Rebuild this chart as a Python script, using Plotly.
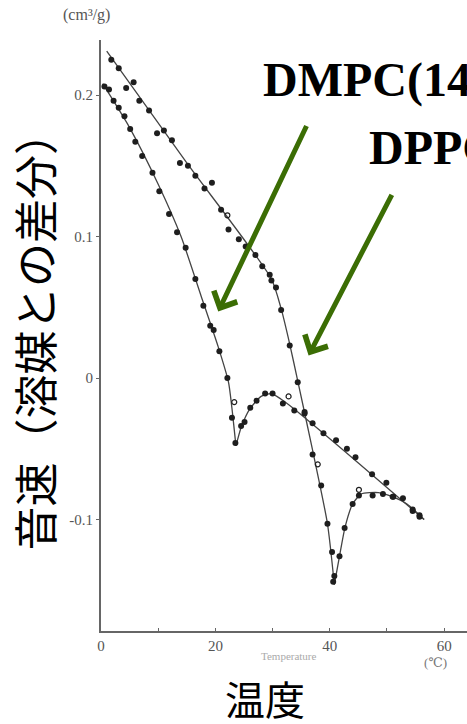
import plotly.graph_objects as go

# Measured points: excess sound velocity vs temperature
dppc_t = [1.8, 3.1, 4.4, 5.7, 6.7, 8.4, 9.8, 11.0, 12.4, 13.8, 15.2, 16.5, 18.1, 19.4,
          21.0, 22.3, 24.1, 25.3, 27.0, 28.2, 29.5, 29.8, 30.6, 31.5, 33.0, 34.4, 35.6,
          37.0, 38.5, 39.6, 40.4, 40.8, 40.6, 41.7, 42.6, 44.0, 45.1, 47.5, 49.3, 51.0,
          52.8, 54.5, 55.7]
dppc_v = [0.225, 0.219, 0.205, 0.209, 0.196, 0.189, 0.173, 0.175, 0.168, 0.152, 0.150,
          0.143, 0.134, 0.138, 0.119, 0.105, 0.098, 0.093, 0.087, 0.079, 0.073, 0.069,
          0.064, 0.048, 0.023, -0.003, -0.024, -0.054, -0.076, -0.103, -0.123, -0.140,
          -0.144, -0.126, -0.106, -0.089, -0.083, -0.083, -0.082, -0.084, -0.085,
          -0.093, -0.097]
dppc_open_t = [22.1, 37.9, 45.1]
dppc_open_v = [0.115, -0.061, -0.079]

dmpc_t = [0.6, 1.4, 2.2, 3.1, 4.1, 5.1, 6.0, 7.2, 9.0, 10.2, 11.9, 13.3, 14.8, 16.5,
          17.9, 19.1, 19.7, 20.7, 22.1, 22.9, 23.5, 24.5, 25.1, 26.1, 27.2, 28.7, 30.0,
          31.8, 33.8, 35.6, 37.0, 38.9, 41.1, 43.0, 44.5, 47.4, 49.9, 51.1, 54.5, 55.7]
dmpc_v = [0.206, 0.204, 0.196, 0.191, 0.185, 0.176, 0.167, 0.157, 0.145, 0.132, 0.116,
          0.103, 0.092, 0.070, 0.051, 0.037, 0.034, 0.019, 0.000, -0.028, -0.046,
          -0.034, -0.031, -0.021, -0.016, -0.011, -0.011, -0.018, -0.023, -0.025,
          -0.032, -0.039, -0.044, -0.050, -0.056, -0.068, -0.074, -0.084, -0.094, -0.098]
dmpc_open_t = [23.3, 32.8]
dmpc_open_v = [-0.017, -0.013]

# Drawn guide curves, split at the transition cusps
dppc_line_a_t = [1.0, 15.0, 29.8, 31.5, 33.0, 34.4, 37.0, 39.6, 40.8]
dppc_line_a_v = [0.231, 0.152, 0.070, 0.049, 0.024, -0.002, -0.051, -0.103, -0.146]
dppc_line_b_t = [40.8, 41.7, 42.7, 44.0, 45.5, 48.5, 51.0, 53.5, 56.5]
dppc_line_b_v = [-0.146, -0.126, -0.105, -0.089, -0.082, -0.081, -0.084, -0.089, -0.100]

dmpc_line_a_t = [0.3, 5.0, 10.0, 14.0, 17.5, 20.5, 22.3, 23.0, 23.6]
dmpc_line_a_v = [0.208, 0.177, 0.137, 0.100, 0.058, 0.022, -0.003, -0.025, -0.048]
dmpc_line_b_t = [23.6, 24.5, 26.0, 28.0, 29.8, 31.5, 33.5, 45.0, 56.5]
dmpc_line_b_v = [-0.048, -0.035, -0.022, -0.013, -0.011, -0.015, -0.021, -0.060, -0.100]

x_ticks = [0, 10, 20, 30, 40, 50, 60]
x_tick_text = ["0", "", "20", "", "40", "", "60"]
y_ticks = [0.2, 0.1, 0.0, -0.1]
y_tick_text = ["0.2", "0.1", "0", "-0.1"]

LINE = dict(color="#444444", width=1.3, shape="spline", smoothing=0.6)
DOT = dict(color="#1e1e1e", size=6, symbol="circle")
OPEN = dict(color="#1e1e1e", size=5, symbol="circle-open", line=dict(width=1.2))

fig = go.Figure()
for tx, vy in [(dppc_line_a_t, dppc_line_a_v), (dppc_line_b_t, dppc_line_b_v),
               (dmpc_line_a_t, dmpc_line_a_v), (dmpc_line_b_t, dmpc_line_b_v)]:
    fig.add_trace(go.Scatter(x=tx, y=vy, mode="lines", line=LINE,
                             hoverinfo="skip", showlegend=False))
for tx, vy in [(dppc_t, dppc_v), (dmpc_t, dmpc_v)]:
    fig.add_trace(go.Scatter(x=tx, y=vy, mode="markers", marker=DOT, showlegend=False))
for tx, vy in [(dppc_open_t, dppc_open_v), (dmpc_open_t, dmpc_open_v)]:
    fig.add_trace(go.Scatter(x=tx, y=vy, mode="markers", marker=OPEN, showlegend=False))

serif = "Liberation Serif, DejaVu Serif, serif"
tick_font = dict(family=serif, size=15, color="#555555")

fig.update_xaxes(range=[0, 64], showline=True, linecolor="#666666", linewidth=2,
                 showgrid=False, zeroline=False, ticks="inside", ticklen=3,
                 tickcolor="#666666", tickvals=x_ticks, ticktext=x_tick_text,
                 tickfont=tick_font)
fig.update_yaxes(range=[-0.1788, 0.2389], showline=True, linecolor="#666666", linewidth=2,
                 showgrid=False, zeroline=False, ticks="outside", ticklen=3,
                 tickcolor="#666666", tickvals=y_ticks, ticktext=y_tick_text,
                 tickfont=dict(family=serif, size=15, color="#555555"))

GREEN = "#3b6d04"
label_font = dict(family="Liberation Serif, Times New Roman, serif", size=48,
                  color="black", weight="bold")
cjk_font = dict(family="Noto Sans CJK JP", size=44, color="black")

annotations = [
    dict(text="<b>DMPC(14:0)</b>", x=0.437, y=0.932, xref="paper", yref="paper",
         xanchor="left", yanchor="middle", showarrow=False, font=label_font),
    dict(text="<b>DPPC(16:0)</b>", x=0.727, y=0.817, xref="paper", yref="paper",
         xanchor="left", yanchor="middle", showarrow=False, font=label_font),
    # arrows pointing at the two transitions
    dict(x=20.5, y=0.047, xref="x", yref="y", ax=89, ay=-187, text="",
         showarrow=True, arrowhead=4, arrowsize=1, arrowwidth=5, arrowcolor=GREEN),
    dict(x=36.3, y=0.016, xref="x", yref="y", ax=84, ay=-162, text="",
         showarrow=True, arrowhead=4, arrowsize=1, arrowwidth=5, arrowcolor=GREEN),
    dict(text="(cm³/g)", x=-0.04, y=1.042, xref="paper", yref="paper",
         xanchor="center", yanchor="middle", showarrow=False,
         font=dict(family=serif, size=16, color="#555555")),
    dict(text="(℃)", x=0.915, y=-0.053, xref="paper", yref="paper",
         xanchor="center", yanchor="middle", showarrow=False,
         font=dict(family=serif, size=13, color="#777777")),
    dict(text="Temperature", x=0.513, y=-0.042, xref="paper", yref="paper",
         xanchor="center", yanchor="middle", showarrow=False,
         font=dict(family=serif, size=11, color="#aaaaaa")),
    dict(text="温度", x=0.447, y=-0.113, xref="paper", yref="paper",
         xanchor="center", yanchor="middle", showarrow=False,
         font=dict(family="Noto Sans CJK JP", size=40, color="black")),
    dict(text="音速（溶媒との差分）", x=-0.182, y=0.509, xref="paper", yref="paper",
         xanchor="center", yanchor="middle", textangle=-90, showarrow=False,
         font=cjk_font),
]

fig.update_layout(
    width=467, height=724,
    margin=dict(l=101, r=0, t=40, b=93),
    paper_bgcolor="white", plot_bgcolor="white",
    annotations=annotations,
    showlegend=False,
)

fig.write_html("out.html")
